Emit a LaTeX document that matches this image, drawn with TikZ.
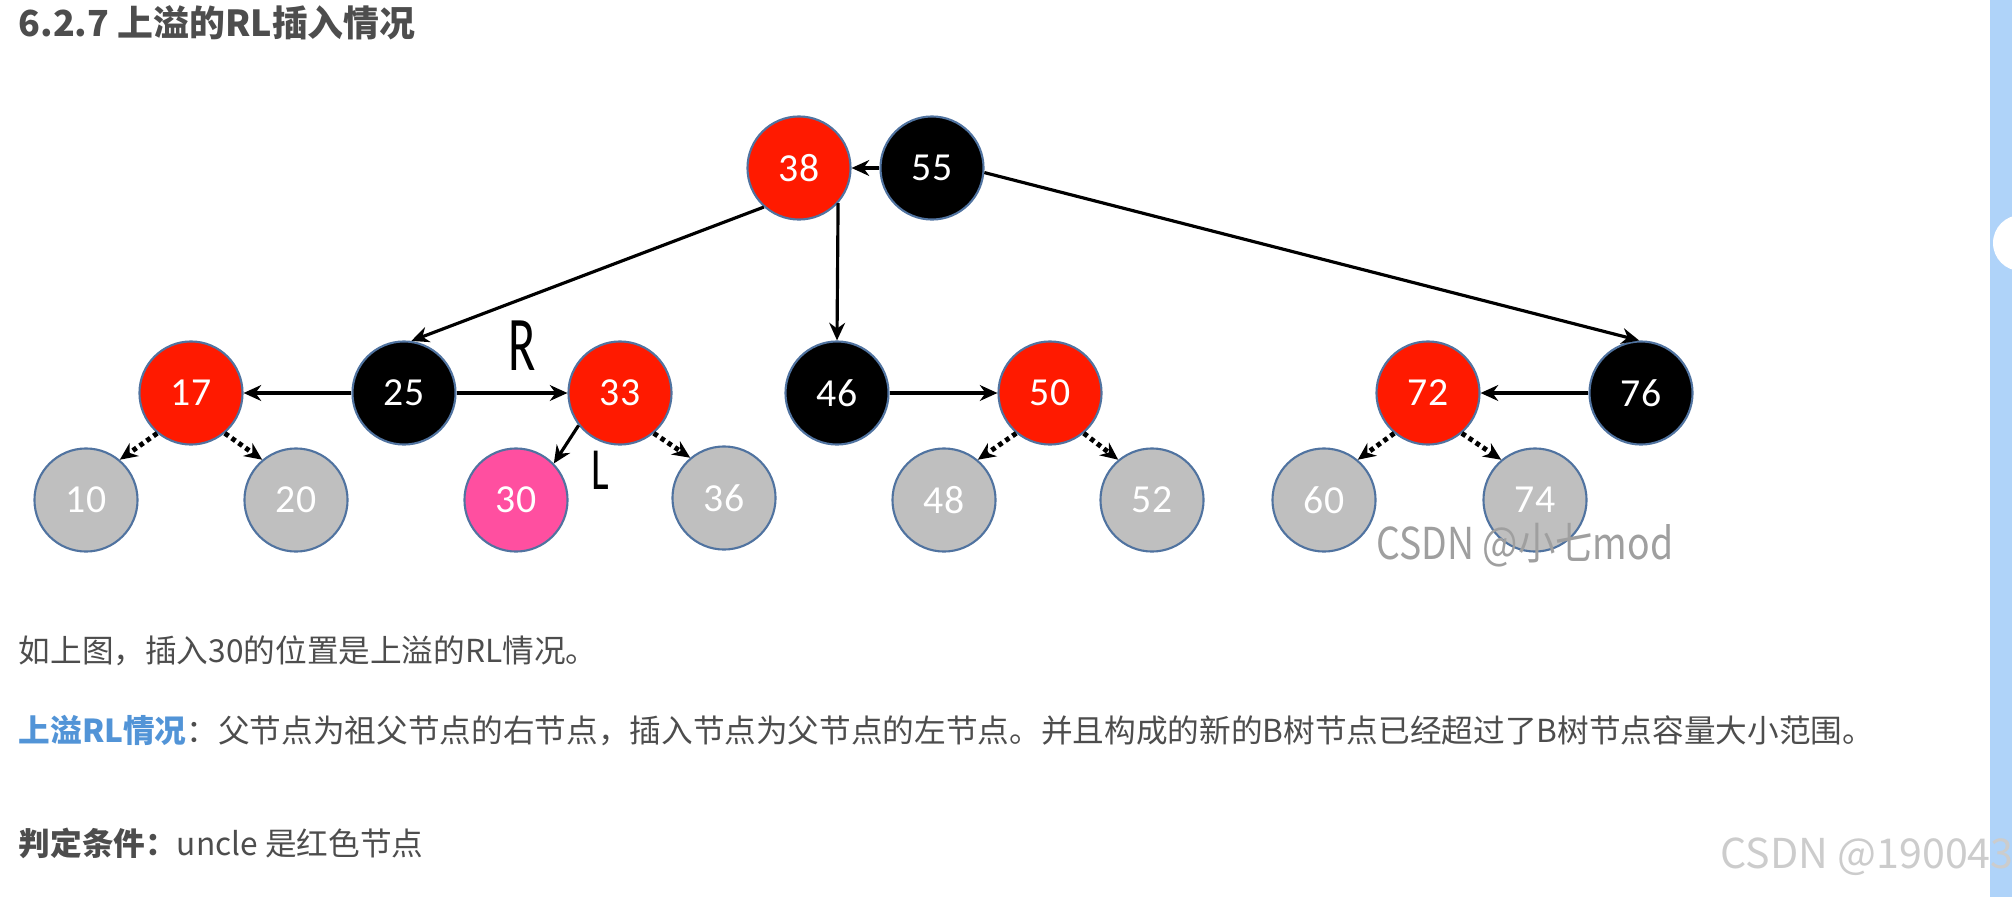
\documentclass[tikz,border=0pt]{standalone}
\usepackage{fontspec}
\usepackage{tikz}
\usetikzlibrary{arrows.meta}
\setmainfont{Carlito}
\newfontfamily\cjk{Noto Sans CJK SC}
\newfontfamily\numfont{Carlito}
\newfontfamily\markfont[FakeStretch=0.85]{Noto Sans CJK SC}
\definecolor{nodered}{RGB}{255,26,0}
\definecolor{nodepink}{RGB}{255,79,160}
\definecolor{nodegray}{RGB}{191,191,191}
\definecolor{rimblue}{RGB}{80,115,160}
\definecolor{textgray}{RGB}{77,77,77}
\definecolor{linkblue}{RGB}{82,148,215}
\definecolor{barblue}{RGB}{175,211,249}

\begin{document}
\begin{tikzpicture}[x=0.01cm, y=-0.01cm,
    rbnode/.style={circle, minimum size=1.03cm, inner sep=0pt, draw=rimblue, line width=0.6pt,
        text=white, font=\numfont\fontsize{11.3}{12}\selectfont},
    rednode/.style={rbnode, fill=nodered},
    blacknode/.style={rbnode, fill=black},
    nilnode/.style={rbnode, fill=nodegray},
    newnode/.style={rbnode, fill=nodepink},
    link/.style={-{Stealth[length=5pt,width=4.5pt]}, line width=0.9pt},
    nillink/.style={-{Stealth[length=5pt,width=4.5pt]}, line width=1.4pt, dash pattern=on 1.3pt off 1.1pt},
    para/.style={anchor=west, inner sep=0pt, text=textgray, font=\cjk\fontsize{9}{11}\selectfont}]
    \fill[white] (0,0) rectangle (2012,897);
    \useasboundingbox (0,0) rectangle (2012,897);

    % page side bar
    \fill[barblue] (1990,0) rectangle (2012,897);
    \fill[white] (2021,243) circle (28);

    % heading
    \node[anchor=west, inner sep=0pt, text=textgray, font=\cjk\bfseries\fontsize{10.2}{12}\selectfont]
        (title) at (18,23) {6.2.7 上溢的RL插入情况};

    % top level
    \node[rednode] (n38) at (799,168) {38};
    \node[blacknode] (n55) at (932,168) {55};

    % middle level
    \node[rednode] (n17) at (191,393) {17};
    \node[blacknode] (n25) at (404,393) {25};
    \node[rednode] (n33) at (620,393) {33};
    \node[blacknode] (n46) at (837,393) {46};
    \node[rednode] (n50) at (1050,393) {50};
    \node[rednode] (n72) at (1428,393) {72};
    \node[blacknode] (n76) at (1641,393) {76};

    % leaves
    \node[nilnode] (n10) at (86,500) {10};
    \node[nilnode] (n20) at (296,500) {20};
    \node[newnode] (n30) at (516,500) {30};
    \node[nilnode] (n36) at (724,498) {36};
    \node[nilnode] (n48) at (944,500) {48};
    \node[nilnode] (n52) at (1152,500) {52};
    \node[nilnode] (n60) at (1324,500) {60};
    \node[nilnode] (n74) at (1535,500) {74};

    % links from the top
    \draw[link] (n55) -- (n38);
    \draw[link] (n38.-132) -- (n25.82);
    \draw[link] (n38.-42) -- (n46.north);
    \draw[link] (n55.-5) -- (n76.92);

    % links in the middle
    \draw[link] (n25) -- (n17);
    \draw[link] (n25) -- (n33);
    \draw[link] (n46) -- (n50);
    \draw[link] (n76) -- (n72);
    \draw[link] (n33.-142) -- (n30.44);

    % links to the leaves
    \draw[nillink] (n17.-130) -- (n10.50);
    \draw[nillink] (n17.-50) -- (n20.130);
    \draw[nillink] (n33.-50) -- (n36.130);
    \draw[nillink] (n50.-130) -- (n48.50);
    \draw[nillink] (n50.-50) -- (n52.130);
    \draw[nillink] (n72.-130) -- (n60.50);
    \draw[nillink] (n72.-50) -- (n74.130);

    % hand marks
    \node[font=\numfont\fontsize{22}{24}\selectfont] (rmark) at (522,346) {\scalebox{0.65}[1]{R}};
    \node[font=\numfont\fontsize{17}{19}\selectfont] (lmark) at (600,470) {\scalebox{0.7}[1]{L}};

    % watermarks
    \node[anchor=west, inner sep=0pt, text=gray!75, font=\markfont\fontsize{12.5}{14}\selectfont]
        (mark) at (1376,545) {CSDN @小七mod};
    \node[anchor=west, inner sep=0pt, text=gray!40, font=\cjk\fontsize{11.7}{13}\selectfont]
        (sign) at (1720,857) {CSDN @190043};

    % text below
    \node[para] (line1) at (18,651) {如上图，插入30的位置是上溢的RL情况。};
    \node[para] (line2) at (18,731) {{\color{linkblue}\bfseries 上溢RL情况}：父节点为祖父节点的右节点，插入节点为父节点的左节点。并且构成的新的B树节点已经超过了B树节点容量大小范围。};
    \node[para] (line3) at (18,843) {{\bfseries 判定条件：}uncle 是红色节点};
\end{tikzpicture}
\end{document}
